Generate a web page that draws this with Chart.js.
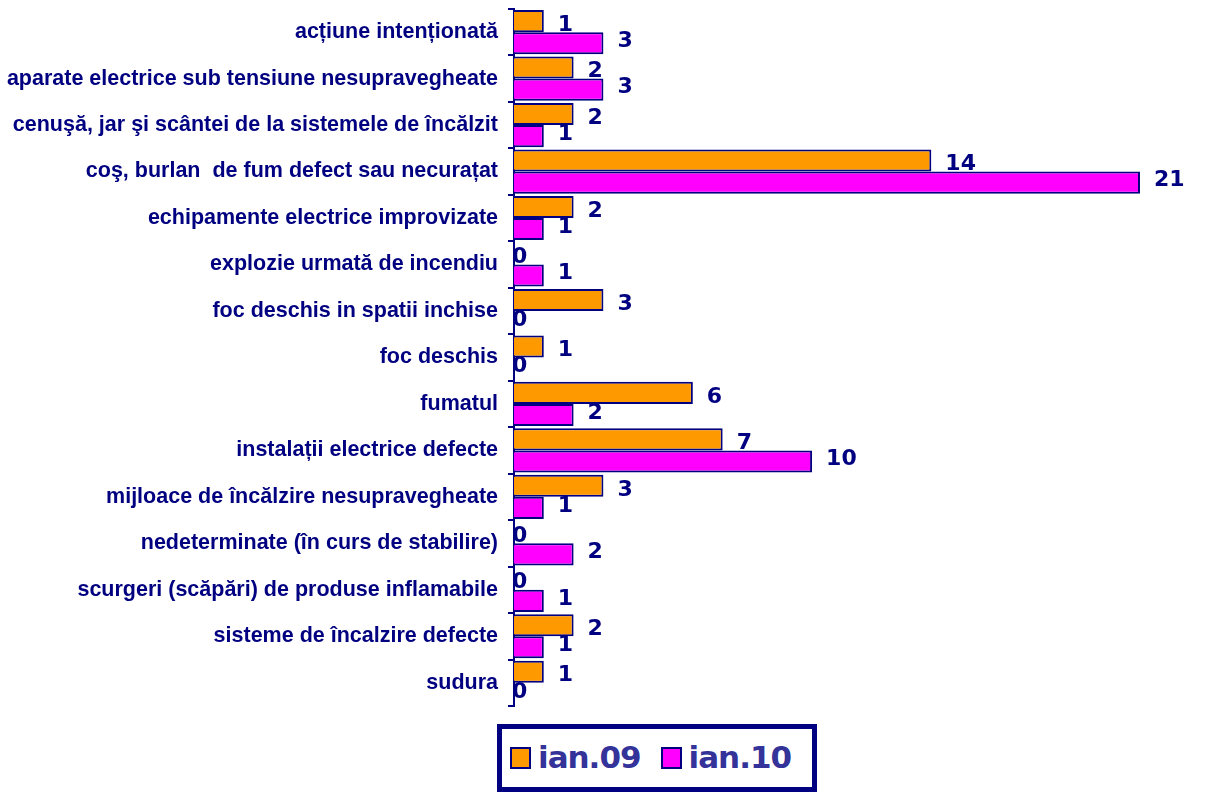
<!DOCTYPE html>
<html>
<head>
<meta charset="utf-8">
<script src="https://cdn.jsdelivr.net/npm/chart.js@4.4.1/dist/chart.umd.min.js"></script>
<style>
    body { margin: 0; background: #ffffff; }
    #wrap { position: relative; width: 1216px; height: 792px; overflow: hidden; }
    #chart { position: absolute; left: 0; top: -14px; }
    #legend-div {
        position: absolute; left: 497px; top: 724px; width: 310px; height: 48px;
        border: 5px solid #000080; background: #fff;
        font-family: "DejaVu Sans", sans-serif; font-weight: bold; font-size: 31px; color: #333399;
        padding-top: 10px; white-space: nowrap;
    }
    .item { display: inline-block; vertical-align: top; margin-left: 8px; letter-spacing: -1px; }
    .item + .item { margin-left: 20px; }
    .box { display: inline-block; width: 17px; height: 18px; border: 2px solid #000080; margin: 0 7px 0 0; vertical-align: -1px; }
</style>
</head>
<body>
<div id="wrap">
    <canvas id="chart" width="1216" height="806"></canvas>
    <div id="legend-div"></div>
</div>
<script>
const categories = [
    "acțiune intenționată",
    "aparate electrice sub tensiune nesupravegheate",
    "cenuşă, jar şi scântei de la sistemele de încălzit",
    "coş, burlan  de fum defect sau necurațat",
    "echipamente electrice improvizate",
    "explozie urmată de incendiu",
    "foc deschis in spatii inchise",
    "foc deschis",
    "fumatul",
    "instalații electrice defecte",
    "mijloace de încălzire nesupravegheate",
    "nedeterminate (în curs de stabilire)",
    "scurgeri (scăpări) de produse inflamabile",
    "sisteme de încalzire defecte",
    "sudura"
]
const seriesNames = ["ian.09", "ian.10"]
const ian09 = [1, 2, 2, 14, 2, 0, 3, 1, 6, 7, 3, 0, 0, 2, 1]
const ian10 = [3, 3, 1, 21, 1, 1, 0, 0, 2, 10, 1, 2, 1, 1, 0]
const seriesColors = ["#FF9900", "#FF00FF"]

const NAVY = "#000080"

// etichete de valori langa capatul barelor
const valueLabels = {
    id: "valueLabels",
    afterDatasetsDraw(chart) {
        const ctx = chart.ctx
        ctx.save()
        ctx.font = "bold 22px 'DejaVu Sans', sans-serif"
        ctx.fillStyle = NAVY
        ctx.textAlign = "left"
        ctx.textBaseline = "middle"
        chart.data.datasets.forEach(function (ds, i) {
            chart.getDatasetMeta(i).data.forEach(function (el, j) {
                const v = ds.data[j]
                const x = v === 0 ? el.base - 2 : el.x + 14
                ctx.fillText(String(v), x, el.y + (i === 0 ? 4 : -2))
            })
        })
        ctx.restore()
    }
}

function drawLegend() {
    const legendDiv = document.getElementById("legend-div")
    for (let i = 0; i < seriesNames.length; i++) {
        const item = document.createElement("span")
        item.className = "item"
        item.innerHTML = "<span class='box' style='background:" + seriesColors[i] + "'></span>" + seriesNames[i]
        legendDiv.append(item)
    }
}

function drawChart() {
    const chartContext = document.getElementById("chart").getContext("2d")
    new Chart(chartContext, {
        type: "bar",
        data: {
            labels: categories,
            datasets: [{
                label: seriesNames[0],
                data: ian09,
                backgroundColor: seriesColors[0],
                borderColor: NAVY,
                borderWidth: 2
            }, {
                label: seriesNames[1],
                data: ian10,
                backgroundColor: seriesColors[1],
                borderColor: NAVY,
                borderWidth: 2
            }]
        },
        options: {
            indexAxis: "y",
            responsive: false,
            animation: false,
            layout: { padding: { top: -4, right: 76, bottom: 86, left: 0 } },
            datasets: { bar: { categoryPercentage: 0.95, barPercentage: 1 } },
            plugins: {
                legend: { display: false },
                tooltip: { enabled: false }
            },
            scales: {
                x: { display: false, min: 0, max: 21 },
                y: {
                    afterFit: function (scale) { scale.width = 514 },
                    border: { display: true, color: NAVY, width: 2 },
                    grid: { offset: true, drawOnChartArea: false, color: NAVY, lineWidth: 2, tickLength: 6 },
                    ticks: {
                        color: NAVY,
                        padding: 10,
                        font: { family: "'Liberation Sans', Arial, sans-serif", weight: "bold", size: 21.5 }
                    }
                }
            }
        },
        plugins: [valueLabels]
    })
}

window.onload = function () {
    drawLegend()
    drawChart()
}
</script>
</body>
</html>
